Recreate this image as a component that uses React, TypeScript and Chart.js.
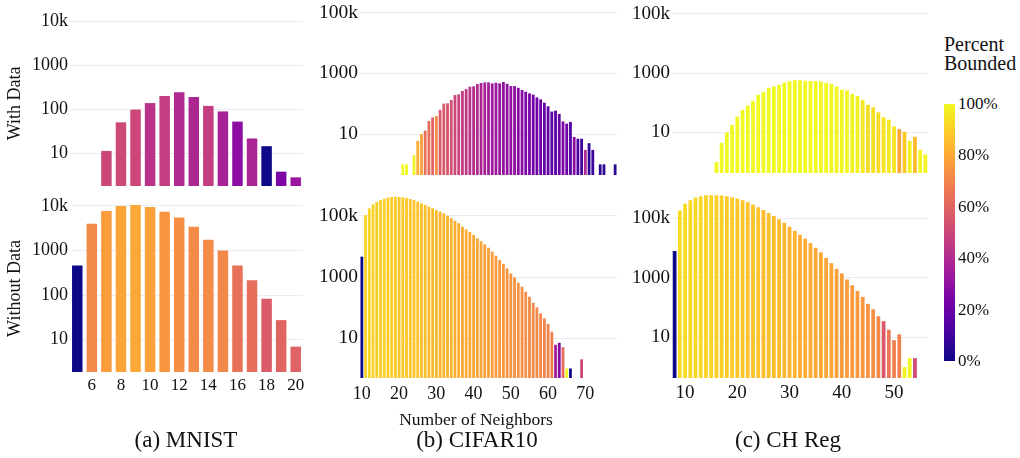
import React, { useEffect, useRef } from 'react';
import { Chart, registerables } from 'chart.js';

Chart.register(...registerables);

// ---------------- data ----------------
const mnistCats = ['5', '6', '7', '8', '9', '10', '11', '12', '13', '14', '15', '16', '17', '18', '19', '20'];
const mnistWith = [null, null, 11.5, 51, 99, 139, 200, 245, 190, 120, 90, 53, 22, 14.7, 3.9, 2.9];
const mnistWithPct = [null, null, 50, 51, 50, 43, 47, 40, 39, 47, 37, 29, 38, 0, 25, 33];
const mnistWithout = [460, 4000, 7700, 10000, 10800, 9500, 7400, 5500, 3400, 1750, 1000, 460, 215, 83, 27.5, 7];
const mnistWithoutPct = [0, 71, 77, 79, 80, 78, 75, 73, 72, 72, 71, 64, 63, 57, 60, 59];

const cifarCats = [
  '10', '11', '12', '13', '14', '15', '16', '17', '18', '19', '20', '21', '22', '23', '24', '25', '26', '27', '28', '29',
  '30', '31', '32', '33', '34', '35', '36', '37', '38', '39', '40', '41', '42', '43', '44', '45', '46', '47', '48', '49',
  '50', '51', '52', '53', '54', '55', '56', '57', '58', '59', '60', '61', '62', '63', '64', '65', '66', '67', '68', '69',
  '70', '71', '72', '73', '74', '75', '76', '77', '78',
];
const cifarWith = [
  null, null, null, null, null, null, null, null, null, null, null, 1, 1, null, 2, 6, 10, 13, 27, 35,
  39, 63, 100, 103, 132, 193, 203, 262, 303, 364, 372, 444, 480, 505, 505, 467, 490, 467, 519, 455,
  380, 380, 335, 283, 249, 219, 198, 161, 139, 108, 82, 55, 59, 46, 26, 22, 25, 8, 7, 7,
  3, 5, 3, null, 1, 1, null, null, 1,
];
const cifarWithPct = [
  null, null, null, null, null, null, null, null, null, null, null, 100, 100, null, 98, 82, 78, 64, 63, 60,
  72, 57, 56, 55, 53, 50, 49, 46, 45, 43, 41, 40, 38, 37, 35, 34, 33, 32, 31, 30,
  30, 29, 28, 27, 25, 24, 22, 21, 20, 19, 18, 17, 16, 20, 25, 21, 15, 28, 13, 11,
  40, 7, 9, null, 6, 6, null, null, 5,
];
const cifarWithout = [
  4650, 108000, 178000, 240000, 287000, 335000, 370000, 400000, 420000, 430000, 420000, 410000, 390000, 360000, 330000, 293000, 260000, 234000, 202000, 178000,
  157000, 139000, 123000, 103000, 86000, 70000, 58000, 45000, 36500, 30000, 24000, 18500, 15000, 11800, 9100, 6800, 5000, 3600, 2700, 1900,
  1300, 970, 650, 480, 330, 226, 144, 101, 64, 44, 29, 16, 6, 7, 5, 1, 1, null, null, 2,
  null, null, null, null, null, null, null, null, null,
];
const cifarWithoutPct = [
  0, 91, 91, 91, 90, 90, 90, 89, 89, 89, 88, 88, 88, 87, 87, 87, 86, 86, 85, 85,
  85, 84, 84, 83, 83, 82, 82, 81, 81, 80, 80, 79, 79, 78, 78, 77, 77, 76, 76, 75,
  75, 74, 74, 73, 73, 72, 72, 71, 71, 70, 70, 69, 35, 27, 62, 100, 0, null, null, 50,
  null, null, null, null, null, null, null, null, null,
];

const chCats = [
  '8', '9', '10', '11', '12', '13', '14', '15', '16', '17', '18', '19', '20', '21', '22', '23', '24', '25', '26', '27',
  '28', '29', '30', '31', '32', '33', '34', '35', '36', '37', '38', '39', '40', '41', '42', '43', '44', '45', '46', '47',
  '48', '49', '50', '51', '52', '53', '54', '55', '56',
];
const chWith = [
  null, null, null, null, null, null, null, null, 1, 4.5, 10, 18, 34, 58, 81, 117, 186, 235, 320, 356,
  405, 485, 540, 580, 580, 550, 550, 540, 525, 470, 438, 356, 275, 260, 200, 172, 126, 86, 71, 48,
  33, 27, 16, 13, 10.5, 5.2, 7.1, 2.6, 1.8,
];
const chWithPct = [
  null, null, null, null, null, null, null, null, 100, 100, 100, 100, 100, 100, 100, 100, 100, 100, 100, 100,
  100, 100, 100, 100, 100, 100, 100, 100, 100, 100, 99, 99, 99, 99, 98, 98, 96, 93, 94, 93,
  95, 96, 95, 79, 88, 98, 85, 99, 99,
];
const chWithout = [
  8000, 182000, 310000, 405000, 500000, 555000, 596000, 600000, 596000, 580000, 555000, 510000, 460000, 405000, 345000, 290000, 235000, 190000, 150000, 119000,
  93000, 71000, 52000, 38000, 28000, 20600, 14800, 10300, 7200, 4700, 3100, 2000, 1400, 880, 565, 365, 228, 133, 88, 51,
  35, 18, 8, 12.6, 1, 2, 2, null, null,
];
const chWithoutPct = [
  0, 93, 93, 92, 92, 92, 91, 91, 90, 90, 89, 89, 88, 88, 87, 87, 87, 86, 86, 85,
  85, 84, 83, 83, 82, 82, 81, 80, 80, 79, 79, 78, 77, 77, 76, 76, 75, 74, 73, 71,
  56, 66, 69, 69, 98, 99, 52, null, null,
];

const decadeTicksA = [10, 100, 1000, 10000];
const decadeTicksBC = [10, 1000, 100000];
const colorbarTicks = [100, 80, 60, 40, 20, 0];

// ---------------- styling helpers ----------------
const PLASMA = ['#0d0887', '#46039f', '#7201a8', '#9c179e', '#bd3786', '#d8576b', '#ed7953', '#fb9f3a', '#fdca26', '#f0f921'];
const SERIF = "'Liberation Serif', 'DejaVu Serif', serif";
const TEXT = '#111111';
const GRID = '#e9ecf4';

function hexToRgb(h: string) {
  return [parseInt(h.slice(1, 3), 16), parseInt(h.slice(3, 5), 16), parseInt(h.slice(5, 7), 16)];
}
function plasma(p: number | null): string {
  if (p === null) return 'rgba(0,0,0,0)';
  const t = Math.max(0, Math.min(1, p / 100)) * (PLASMA.length - 1);
  const i = Math.min(Math.floor(t), PLASMA.length - 2);
  const f = t - i;
  const a = hexToRgb(PLASMA[i]);
  const b = hexToRgb(PLASMA[i + 1]);
  const c = a.map((v, k) => Math.round(v + (b[k] - v) * f));
  return `rgb(${c[0]},${c[1]},${c[2]})`;
}
function fmtTick(v: number): string {
  if (v >= 1000 && v % 1000 === 0 && v >= 10000) return `${v / 1000}k`;
  return String(v);
}

type PanelSpec = {
  left: number; top: number; width: number; height: number;
  padTop: number; padRight: number; yAxisWidth: number; xAxisHeight: number;
  labels: string[]; values: (number | null)[]; pct: (number | null)[];
  logMin: number; logMax: number; yTicks: number[];
  xEvery: number; yFont: number; xFont: number; xPad: number;
  yTitle?: string; barPct: number; showX: boolean;
};

const panels: PanelSpec[] = [
  { left: 0, top: 0, width: 310, height: 186, padTop: 21, padRight: 7, yAxisWidth: 70, xAxisHeight: 0,
    labels: mnistCats, values: mnistWith, pct: mnistWithPct, logMin: 0.267, logMax: 4.0, yTicks: decadeTicksA,
    xEvery: 2, yFont: 18, xFont: 17, xPad: 3, yTitle: 'With Data', barPct: 0.72, showX: false },
  { left: 0, top: 195, width: 310, height: 217, padTop: 10, padRight: 7, yAxisWidth: 70, xAxisHeight: 40,
    labels: mnistCats, values: mnistWithout, pct: mnistWithoutPct, logMin: 0.276, logMax: 4.022, yTicks: decadeTicksA,
    xEvery: 2, yFont: 18, xFont: 17, xPad: 3, yTitle: 'Without Data', barPct: 0.72, showX: true },
  { left: 290, top: 0, width: 330, height: 175, padTop: 8, padRight: 3, yAxisWidth: 70, xAxisHeight: 0,
    labels: cifarCats, values: cifarWith, pct: cifarWithPct, logMin: -0.351, logMax: 5.155, yTicks: decadeTicksBC,
    xEvery: 10, yFont: 19.5, xFont: 18, xPad: 5, barPct: 0.75, showX: false },
  { left: 290, top: 185, width: 330, height: 233, padTop: 9, padRight: 3, yAxisWidth: 70, xAxisHeight: 40,
    labels: cifarCats, values: cifarWithout, pct: cifarWithoutPct, logMin: -0.311, logMax: 5.721, yTicks: decadeTicksBC,
    xEvery: 10, yFont: 19.5, xFont: 18, xPad: 5, barPct: 0.75, showX: true },
  { left: 602, top: 0, width: 330, height: 173, padTop: 8, padRight: 4, yAxisWidth: 70, xAxisHeight: 0,
    labels: chCats, values: chWith, pct: chWithPct, logMin: -0.367, logMax: 5.2, yTicks: decadeTicksBC,
    xEvery: 10, yFont: 19, xFont: 19, xPad: 4, barPct: 0.72, showX: false },
  { left: 602, top: 185, width: 330, height: 233, padTop: 9, padRight: 4, yAxisWidth: 70, xAxisHeight: 40,
    labels: chCats, values: chWithout, pct: chWithoutPct, logMin: -0.367, logMax: 5.818, yTicks: decadeTicksBC,
    xEvery: 10, yFont: 19, xFont: 19, xPad: 4, barPct: 0.72, showX: true },
];

function BarPanel({ spec }: { spec: PanelSpec }) {
  const ref = useRef<HTMLCanvasElement | null>(null);
  useEffect(() => {
    if (!ref.current) return;
    const s = spec;
    const chart = new Chart(ref.current, {
      type: 'bar',
      data: {
        labels: s.labels,
        datasets: [{
          data: s.values as any,
          backgroundColor: s.pct.map((p) => plasma(p)),
          borderWidth: 0,
          barPercentage: s.barPct,
          categoryPercentage: 1,
        }],
      },
      options: {
        responsive: false,
        animation: false,
        events: [],
        layout: { autoPadding: false, padding: { top: s.padTop, right: s.padRight, left: 0, bottom: 0 } },
        plugins: { legend: { display: false }, tooltip: { enabled: false } },
        scales: {
          x: {
            type: 'category',
            display: s.showX,
            offset: true,
            grid: { display: false, drawTicks: false },
            border: { display: false },
            ticks: {
              autoSkip: false, maxRotation: 0, minRotation: 0, padding: s.xPad,
              font: { family: SERIF, size: s.xFont }, color: TEXT,
              callback: (_v: any, i: number) => (Number(s.labels[i]) % s.xEvery === 0 ? s.labels[i] : ''),
            },
            afterFit: (axis: any) => { axis.height = s.xAxisHeight; axis.paddingLeft = 0; axis.paddingRight = 0; },
          },
          y: {
            type: 'logarithmic',
            min: Math.pow(10, s.logMin),
            max: Math.pow(10, s.logMax),
            bounds: 'data',
            afterBuildTicks: (axis: any) => { axis.ticks = s.yTicks.map((v) => ({ value: v })); },
            grid: { color: GRID, drawTicks: false, lineWidth: 1 },
            border: { display: false },
            ticks: {
              padding: 2, font: { family: SERIF, size: s.yFont }, color: TEXT,
              callback: (v: any) => fmtTick(Number(v)),
            },
            title: s.yTitle
              ? { display: true, text: s.yTitle, font: { family: SERIF, size: 18 }, color: TEXT, padding: 4 }
              : { display: false },
            afterFit: (axis: any) => { axis.width = s.yAxisWidth; axis.paddingTop = 0; axis.paddingBottom = 0; },
          },
        },
      } as any,
    });
    return () => chart.destroy();
  }, [spec]);
  return (
    <canvas
      ref={ref}
      width={spec.width}
      height={spec.height}
      style={{ position: 'absolute', left: spec.left, top: spec.top, width: spec.width, height: spec.height }}
    />
  );
}

function CenterText({ cx, cy, size, text }: { cx: number; cy: number; size: number; text: string }) {
  const lh = Math.round(size * 1.2);
  return (
    <div style={{
      position: 'absolute', left: cx - 150, width: 300, top: cy - lh / 2, height: lh, lineHeight: `${lh}px`,
      textAlign: 'center', fontFamily: SERIF, fontSize: size, color: TEXT, whiteSpace: 'nowrap',
    }}>{text}</div>
  );
}

const CB_LEFT = 944;
const CB_TOP = 104;
const CB_W = 11;
const CB_H = 257;

export default function App() {
  const gradient = `linear-gradient(to top, ${PLASMA.map((c, i) => `${c} ${(i / (PLASMA.length - 1)) * 100}%`).join(', ')})`;
  return (
    <div style={{ position: 'absolute', left: 0, top: 0, width: 1020, height: 458, background: '#ffffff', overflow: 'hidden' }}>
      {panels.map((p, i) => <BarPanel key={i} spec={p} />)}
      <CenterText cx={476} cy={419} size={17.5} text="Number of Neighbors" />
      <CenterText cx={186} cy={440} size={23} text="(a) MNIST" />
      <CenterText cx={477} cy={440} size={23} text="(b) CIFAR10" />
      <CenterText cx={788} cy={440} size={23} text="(c) CH Reg" />
      <div style={{
        position: 'absolute', left: CB_LEFT, top: 35, lineHeight: '19px', fontFamily: SERIF, fontSize: 20, color: TEXT,
      }}>Percent<br />Bounded</div>
      <div style={{ position: 'absolute', left: CB_LEFT, top: CB_TOP, width: CB_W, height: CB_H, background: gradient }} />
      {colorbarTicks.map((v) => (
        <div key={v} style={{
          position: 'absolute', left: CB_LEFT + CB_W + 3, top: CB_TOP + (1 - v / 100) * CB_H - 10, height: 20, lineHeight: '20px',
          fontFamily: SERIF, fontSize: 17, color: TEXT, whiteSpace: 'nowrap',
        }}>{`${v}%`}</div>
      ))}
    </div>
  );
}
